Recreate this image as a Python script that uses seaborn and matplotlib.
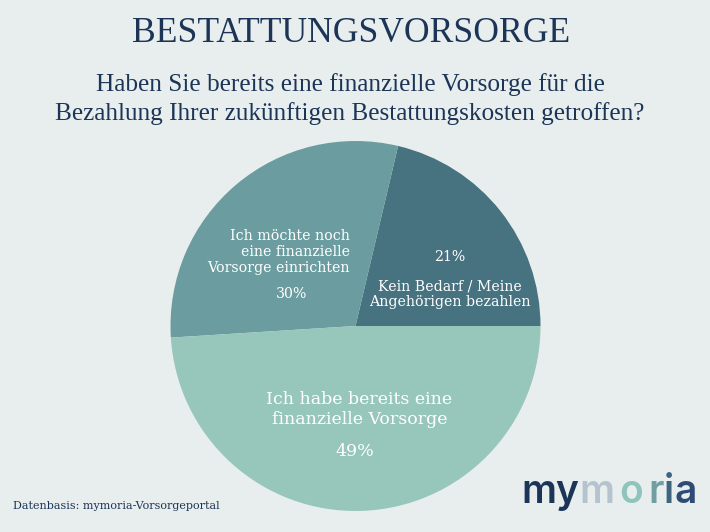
import matplotlib
matplotlib.use("Agg")
import matplotlib.pyplot as plt
import seaborn as sns

sns.set_theme(style="white")
plt.rcParams['font.family'] = ['Liberation Serif', 'DejaVu Serif']

labels = ["Kein Bedarf / Meine\nAngehörigen bezahlen",
          "Ich möchte noch\neine finanzielle\nVorsorge einrichten",
          "Ich habe bereits eine\nfinanzielle Vorsorge"]
values = [21.3, 29.7, 49]
colors = ["#47727F", "#6B9DA0", "#97C6BA"]
title = "BESTATTUNGSVORSORGE"
question = "Haben Sie bereits eine finanzielle Vorsorge für die\nBezahlung Ihrer zukünftigen Bestattungskosten getroffen?"
source = "Datenbasis: mymoria-Vorsorgeportal"
logo_letters = ["my", "m", "o", "r", "i", "a"]
logo_colors = ["#1C3557", "#B5C3CF", "#8FC4BC", "#6F9FA0", "#3F6480", "#2F4A75"]
BG = "#E8EEEE"
NAVY = "#1C3557"
SERIF = ['DejaVu Serif']

fig = plt.figure(figsize=(7.1, 5.32), dpi=100, facecolor=BG)
ax = fig.add_axes([0, 0, 1, 1])
ax.set_facecolor(BG)
ax.pie(values, colors=colors, startangle=0, counterclock=True, radius=185,
       center=(355.5, 532 - 326), frame=True, wedgeprops=dict(linewidth=0))
ax.set_xlim(0, 710)
ax.set_ylim(0, 532)
ax.set_aspect('equal')
ax.axis('off')

def T(x, y, s, **kw):
    kw.setdefault('va', 'center')
    kw.setdefault('ha', 'center')
    return ax.text(x, 532 - y, s, **kw)

T(351, 34, title, fontsize=25.6, color=NAVY, family='Liberation Serif')
T(350, 99, question, fontsize=18.2, color=NAVY, family='Liberation Serif', linespacing=1.29)

T(450, 257, "21%", fontsize=10.2, color="white", family=SERIF)
T(450, 294, labels[0], fontsize=10.2, color="white", family=SERIF, linespacing=1.15)
T(350, 252, labels[1], fontsize=10.2, color="white", family=SERIF, ha='right', linespacing=1.15)
T(292, 294, "30%", fontsize=10.2, color="white", family=SERIF)
T(359.5, 409.5, labels[2], fontsize=12.5, color="white", family=SERIF, linespacing=1.3)
T(355, 452, "49%", fontsize=12.5, color="white", family=SERIF)
T(13, 506, source, fontsize=8, color=NAVY, family=SERIF, ha='left')

# logo wordmark: one text per colour step
logo_x = [521, 579, 619, 648, 664, 674]
for s, c, x in zip(logo_letters, logo_colors, logo_x):
    T(x, 503, s, fontsize=28, color=c, family='Inter', fontweight='semibold',
      ha='left', va='baseline')

fig.savefig("out.png", dpi=100, facecolor=BG)
